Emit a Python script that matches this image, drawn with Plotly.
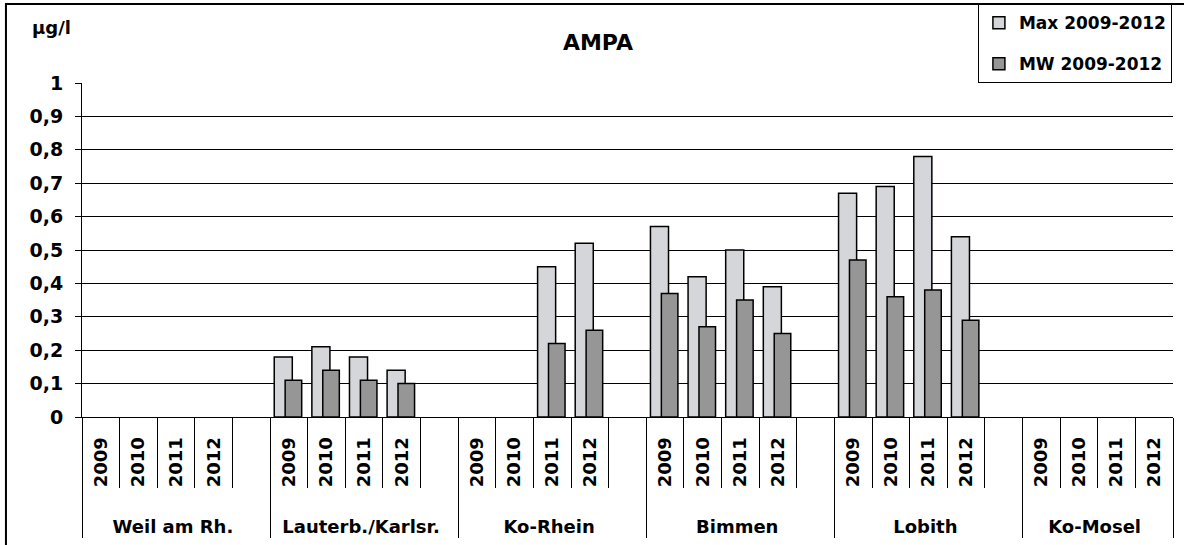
import plotly.graph_objects as go

# Stations along the Rhine and years sampled
stations = ["Weil am Rh.", "Lauterb./Karlsr.", "Ko-Rhein", "Bimmen", "Lobith", "Ko-Mosel"]
years = ["2009", "2010", "2011", "2012"]

# AMPA values in µg/l, None = no value
max_vals = {
    "Weil am Rh.": [None, None, None, None],
    "Lauterb./Karlsr.": [0.18, 0.21, 0.18, 0.14],
    "Ko-Rhein": [None, None, 0.45, 0.52],
    "Bimmen": [0.57, 0.42, 0.50, 0.39],
    "Lobith": [0.67, 0.69, 0.78, 0.54],
    "Ko-Mosel": [None, None, None, None],
}
mw_vals = {
    "Weil am Rh.": [None, None, None, None],
    "Lauterb./Karlsr.": [0.11, 0.14, 0.11, 0.10],
    "Ko-Rhein": [None, None, 0.22, 0.26],
    "Bimmen": [0.37, 0.27, 0.35, 0.25],
    "Lobith": [0.47, 0.36, 0.38, 0.29],
    "Ko-Mosel": [None, None, None, None],
}

y_ticks = [0, 0.1, 0.2, 0.3, 0.4, 0.5, 0.6, 0.7, 0.8, 0.9, 1]
y_labels = ["0", "0,1", "0,2", "0,3", "0,4", "0,5", "0,6", "0,7", "0,8", "0,9", "1"]

FONT = "DejaVu Sans, Arial, sans-serif"

# build the two-level category axis, with an empty slot after each station but the last
# (leading <br> on the station level pushes those labels down below the year ticks)
lvl_station, lvl_year, y_max, y_mw = [], [], [], []
for i, s in enumerate(stations):
    for j, yr in enumerate(years):
        lvl_station.append("<br><b>%s</b>" % s)
        lvl_year.append("<b>%s</b>" % yr)
        y_max.append(max_vals[s][j])
        y_mw.append(mw_vals[s][j])
    if i < len(stations) - 1:
        lvl_station.append("<br><b>%s</b>" % s)
        lvl_year.append(" ")
        y_max.append(None)
        y_mw.append(None)

fig = go.Figure()
fig.add_trace(go.Bar(
    name="Max 2009-2012", x=[lvl_station, lvl_year], y=y_max,
    offset=-0.39, width=0.48, legendgroup="a",
    marker=dict(color="rgb(213,214,217)", line=dict(color="black", width=1.5))))
fig.add_trace(go.Bar(
    name="MW 2009-2012", x=[lvl_station, lvl_year], y=y_mw,
    offset=-0.10, width=0.44, legendgroup="b",
    marker=dict(color="rgb(150,150,150)", line=dict(color="black", width=1.5))))

fig.update_layout(
    width=1184, height=545,
    margin=dict(l=82, r=11, t=83, b=128, autoexpand=False),
    paper_bgcolor="white", plot_bgcolor="white",
    barmode="overlay",
    font=dict(family=FONT, color="black"),
    title=dict(text="<b>AMPA</b>", x=0.505, xref="container", xanchor="center",
               y=1 - 42 / 545, yref="container", yanchor="middle",
               font=dict(size=22, family=FONT, color="black")),
    legend=dict(x=0.999, xanchor="right", y=1.236, yanchor="top",
                bgcolor="white", bordercolor="black", borderwidth=1,
                font=dict(size=17, family=FONT, color="black", weight="bold"),
                traceorder="grouped", tracegroupgap=16),
    showlegend=True,
)

fig.update_yaxes(
    range=[0, 1], tickvals=y_ticks, ticktext=["<b>%s</b>" % t for t in y_labels],
    showgrid=True, gridcolor="black", gridwidth=1,
    showline=True, linecolor="black", linewidth=1,
    ticks="outside", ticklen=6, tickcolor="black", ticklabelstandoff=8,
    tickfont=dict(size=19, family=FONT, color="black"),
    zeroline=False, automargin=False,
)
fig.update_xaxes(
    type="multicategory", tickangle=-90,
    showline=True, linecolor="black", linewidth=1,
    ticks="outside", tickson="boundaries", ticklen=70, tickcolor="black",
    ticklabelstandoff=12,
    showdividers=True, dividercolor="black", dividerwidth=1,
    tickfont=dict(size=18, family=FONT, color="black"),
    showgrid=False, automargin=False,
)

fig.add_annotation(text="<b>µg/l</b>", x=-0.0275, y=1.165, xref="paper", yref="paper",
                   xanchor="center", yanchor="middle",
                   showarrow=False, font=dict(size=18, family=FONT, color="black"))
# outer chart frame
fig.add_shape(type="rect", xref="paper", yref="paper", x0=-0.0697, x1=1.2, y0=-0.6, y1=1.2365,
              line=dict(color="black", width=2), layer="below")

fig.write_html("out.html", config={"displayModeBar": False},
               post_script="document.body.style.margin='0px';")
